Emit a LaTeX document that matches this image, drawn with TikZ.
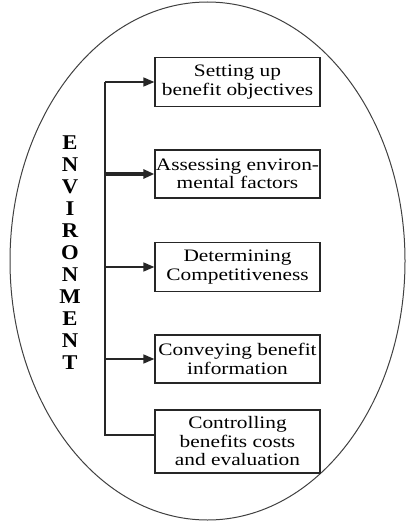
\documentclass[tikz,border=0pt]{standalone}
\usepackage{fontspec}
\setmainfont[FakeStretch=1.22]{Liberation Serif}
\newfontfamily\letterfont[FakeStretch=1.08]{Liberation Serif}
\usetikzlibrary{arrows.meta}

\begin{document}
\begin{tikzpicture}[x=1pt,y=-1pt,
  stepbox/.style={draw=black!85, line width=1.3pt, minimum width=165pt,
    minimum height=49pt, inner sep=0pt, align=center,
    font=\fontsize{17.5}{18.5}\selectfont},
  link/.style={line width=1.6pt, draw=black!85},
  arr/.style={link, -{Triangle[length=11pt,width=9pt]}},
  heavy/.style={line width=3.2pt}]

\useasboundingbox (0,0) rectangle (406,527);

% surrounding environment
\draw[black!75, line width=1pt] (207.5,261) ellipse [x radius=197.5pt, y radius=259pt];

% vertical title
\node[font=\letterfont\bfseries\fontsize{21}{22}\selectfont, align=center,
  inner sep=0pt] (env) at (70,253) {E\\N\\V\\I\\R\\O\\N\\M\\E\\N\\T};

% steps
\node[stepbox] (b1) at (237.5,82) {Setting up\\benefit objectives};
\node[stepbox, minimum height=48pt] (b2) at (237.5,174) {Assessing environ-\\mental factors};
\node[stepbox] (b3) at (237.5,267) {Determining\\Competitiveness};
\node[stepbox, minimum height=48pt] (b4) at (237.5,359) {Conveying benefit\\information};
\node[stepbox, minimum height=63pt] (b5) at (237.5,441.5) {Controlling\\benefits costs\\and evaluation};

% connectors
\coordinate (top) at (105,82);
\coordinate (bot) at (105,435);
\draw[link] (top) -- (bot) -- (bot -| b5.west);
\draw[arr] (top) -- (b1.west);
\draw[arr, heavy] (b2.west -| top) -- (b2.west);
\draw[arr] (b3.west -| top) -- (b3.west);
\draw[arr] (b4.west -| top) -- (b4.west);
\end{tikzpicture}
\end{document}
